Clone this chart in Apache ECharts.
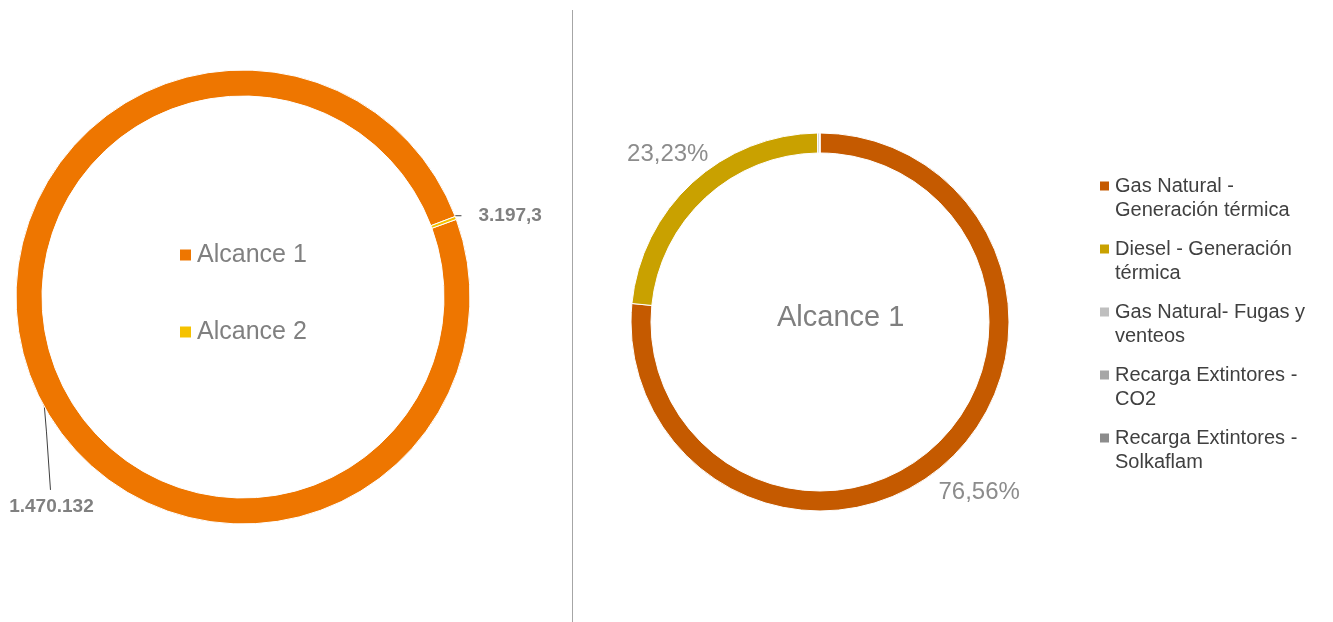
<!DOCTYPE html>
<html>
<head>
<meta charset="utf-8">
<script src="https://cdn.jsdelivr.net/npm/echarts@6/dist/echarts.min.js"></script>
<style>
  html, body { margin: 0; padding: 0; background: #fff; }
  #chart { width: 1333px; height: 622px; }
</style>
</head>
<body>
<div id="chart"></div>
<script>
// left donut: total emissions by scope
const scopeNames = ['Alcance 1', 'Alcance 2'];
const scopeValues = [1470132, 3197.3];
const scopeLabels = ['1.470.132', '3.197,3'];

// right donut: Alcance 1 breakdown (percent)
const sourceNames = [
    'Gas Natural - Generación térmica',
    'Diesel - Generación térmica',
    'Gas Natural- Fugas y venteos',
    'Recarga Extintores - CO2',
    'Recarga Extintores - Solkaflam'
];
const sourceValues = [76.56, 23.23, 0.15, 0.04, 0.02];

const scopeColors = ['#EE7600', '#F5C200'];
const sourceColors = ['#C55A00', '#C9A100', '#BFBFBF', '#A6A6A6', '#8C8C8C'];

const leftCenter = [243, 297], leftRadius = [201, 227], leftStart = 20;
const rightCenter = [820, 322], rightRadius = [169, 189], rightStart = 90;

// middle angle of a slice (math angle, radians), clockwise pie
function midAngle(values, start, i) {
    const total = values.reduce((a, b) => a + b, 0);
    let cum = 0;
    for (let k = 0; k < i; k++) cum += values[k];
    const deg = start - 360 * (cum + values[i] / 2) / total;
    return deg * Math.PI / 180;
}

function pctLabel(v) {
    return v.toFixed(2).replace('.', ',') + '%';
}

const chart = echarts.init(document.getElementById('chart'));

const option = {
    backgroundColor: '#fff',
    textStyle: { fontFamily: 'Liberation Sans, Arial, sans-serif' },
    animation: false,
    title: {
        text: 'Alcance 1',
        left: 777,
        top: 303,
        padding: 0,
        textStyle: { fontSize: 29, fontWeight: 'normal', color: '#7f7f7f' }
    },
    graphic: [{
        type: 'line',
        shape: { x1: 572.5, y1: 10, x2: 572.5, y2: 622 },
        style: { stroke: '#a6a6a6', lineWidth: 1 }
    }],
    legend: [
        {
            data: scopeNames,
            orient: 'vertical',
            left: 178,
            top: 241,
            padding: 0,
            itemWidth: 13,
            itemHeight: 13,
            itemGap: 49,
            icon: 'rect',
            textStyle: { fontSize: 25, color: '#808080', lineHeight: 28 }
        },
        {
            data: sourceNames,
            orient: 'vertical',
            left: 1098,
            top: 150,
            padding: 0,
            itemWidth: 11,
            itemHeight: 11,
            itemGap: -9,
            icon: 'rect',
            // leading blank line keeps the icon level with the first text line
            formatter: (name) => '\n' + name,
            textStyle: {
                fontSize: 20,
                color: '#404040',
                lineHeight: 24,
                width: 206,
                overflow: 'break'
            }
        }
    ],
    series: [
        {
            type: 'pie',
            center: leftCenter,
            radius: leftRadius,
            startAngle: leftStart,
            clockwise: true,
            avoidLabelOverlap: false,
            itemStyle: { borderColor: '#fff', borderWidth: 1 },
            data: scopeNames.map((n, i) => ({
                name: n,
                value: scopeValues[i],
                itemStyle: { color: scopeColors[i] }
            })),
            label: {
                show: true,
                formatter: (p) => scopeLabels[p.dataIndex],
                fontSize: 19,
                fontWeight: 'bold',
                color: '#808080'
            },
            labelLine: { show: true, lineStyle: { color: '#404040', width: 1 } },
            labelLayout: function (p) {
                const a = midAngle(scopeValues, leftStart, p.dataIndex);
                const r = p.dataIndex === 0 ? 215 : 216;
                const ax = leftCenter[0] + r * Math.cos(a);
                const ay = leftCenter[1] - r * Math.sin(a);
                if (p.dataIndex === 0) {
                    return {
                        x: ax + 10, y: ay + 135, align: 'center', verticalAlign: 'middle',
                        labelLinePoints: [[ax, ay], [ax + 5, ay + 60], [ax + 9, ay + 118]]
                    };
                }
                return {
                    x: ax + 33, y: ay - 6, align: 'left', verticalAlign: 'middle',
                    labelLinePoints: [[ax, ay], [ax + 6, ay - 6], [ax + 16, ay - 6]]
                };
            }
        },
        {
            type: 'pie',
            center: rightCenter,
            radius: rightRadius,
            startAngle: rightStart,
            clockwise: true,
            avoidLabelOverlap: false,
            itemStyle: { borderColor: '#fff', borderWidth: 1 },
            data: sourceNames.map((n, i) => ({
                name: n,
                value: sourceValues[i],
                itemStyle: { color: sourceColors[i] },
                label: { show: sourceValues[i] > 1 }
            })),
            label: {
                formatter: (p) => pctLabel(p.value),
                fontSize: 24,
                color: '#8c8c8c'
            },
            labelLine: { show: false },
            labelLayout: function (p) {
                const a = midAngle(sourceValues, rightStart, p.dataIndex);
                const r = rightRadius[1] + 42;
                const dy = p.dataIndex === 0 ? -1 : 2;
                return {
                    x: rightCenter[0] + r * Math.cos(a) + 4,
                    y: rightCenter[1] - r * Math.sin(a) + dy,
                    align: 'center',
                    verticalAlign: 'middle'
                };
            }
        }
    ]
};

chart.setOption(option);
</script>
</body>
</html>
